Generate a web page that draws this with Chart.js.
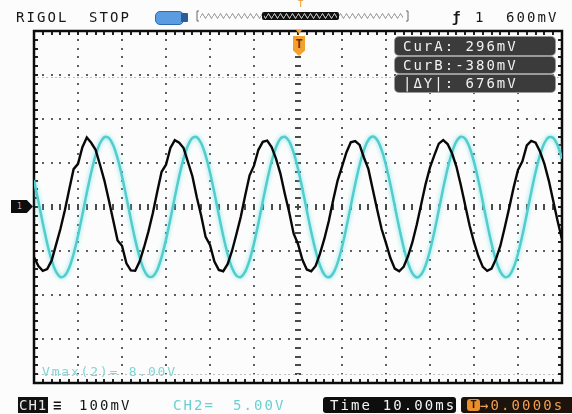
<!DOCTYPE html>
<html>
<head>
<meta charset="utf-8">
<script src="https://cdn.jsdelivr.net/npm/chart.js@4.4.0/dist/chart.umd.min.js"></script>
<style>
html, body { margin: 0; padding: 0; background: #fcfcfc; }
#wrap { position: relative; width: 572px; height: 414px; overflow: hidden; font-family: "DejaVu Sans Mono", monospace; }
#scope { position: absolute; left: 0; top: 0; }
.t { position: absolute; white-space: pre; font-size: 14px; letter-spacing: 2.1px; line-height: 16px; color: #161616; }
.cur { position: absolute; left: 395px; width: 160px; background: #3b3b3b; border-radius: 4px; box-shadow: 0 0 0 1px #9a9a9a; }
.cur span { position: absolute; left: 8px; top: 1px; white-space: pre; font-size: 14px; letter-spacing: 2px; line-height: 16px; color: #f2f2f2; }
</style>
</head>
<body>
<div id="wrap">
  <canvas id="scope" width="572" height="414"></canvas>

  <!-- top status line -->
  <div class="t" style="left:16px;top:9px;">RIGOL</div>
  <div class="t" style="left:89px;top:9px;">STOP</div>
  <div style="position:absolute;left:155px;top:11px;width:27px;height:12px;background:#5b9be0;border:1px solid #2d6bb5;border-radius:5px;"></div>
  <div style="position:absolute;left:181px;top:13px;width:7px;height:9px;background:#2a5d9c;border-radius:1px;"></div>
  <svg style="position:absolute;left:195px;top:8px;" width="220" height="16">
    <defs>
      <pattern id="zz" width="6" height="16" patternUnits="userSpaceOnUse">
        <polyline points="0,8 1.5,5.5 3,8 4.5,10.5 6,8" fill="none" stroke="#777" stroke-width="0.8"/>
      </pattern>
      <pattern id="zzw" width="6" height="16" patternUnits="userSpaceOnUse">
        <polyline points="0,8 1.5,5.5 3,8 4.5,10.5 6,8" fill="none" stroke="#eee" stroke-width="0.9"/>
      </pattern>
    </defs>
    <path d="M4,3 H2 V13 H4" fill="none" stroke="#666" stroke-width="1"/>
    <rect x="5" y="0" width="203" height="16" fill="url(#zz)"/>
    <rect x="67" y="4" width="77" height="8" rx="2" fill="#111"/>
    <rect x="69" y="4" width="73" height="8" fill="url(#zzw)"/>
    <path d="M211,3 H213 V13 H211" fill="none" stroke="#666" stroke-width="1"/>
  </svg>
  <div style="position:absolute;left:298px;top:0px;font-size:9px;line-height:9px;color:#e8962a;font-family:'DejaVu Sans Mono',monospace;">T</div>
  <div class="t" style="left:452px;top:9px;font-weight:bold;">ƒ</div>
  <div class="t" style="left:475px;top:9px;">1</div>
  <div class="t" style="left:506px;top:9px;">600mV</div>

  <!-- trigger position marker -->
  <div style="position:absolute;left:296px;top:30px;width:6px;height:4px;background:#f0a030;clip-path:polygon(0 0,100% 0,50% 100%);"></div>
  <div style="position:absolute;left:293px;top:36px;width:12px;height:20px;background:#f3a12e;clip-path:polygon(0 0,100% 0,100% 72%,50% 100%,0 72%);font:bold 12px 'DejaVu Sans Mono',monospace;color:#7a2a00;text-align:center;line-height:16px;">T</div>

  <!-- channel 1 ground marker -->
  <div style="position:absolute;left:11px;top:200px;width:22px;height:13px;background:#0d0d0d;clip-path:polygon(0 0,72% 0,100% 50%,72% 100%,0 100%);font:8px 'DejaVu Sans Mono',monospace;color:#bbb;line-height:13px;text-indent:6px;">1</div>

  <!-- cursor readout -->
  <div class="cur" style="top:37px;height:18px;"><span>CurA: 296mV</span></div>
  <div class="cur" style="top:57px;height:16px;"><span style="top:0px;">CurB:-380mV</span></div>
  <div class="cur" style="top:75px;height:17px;"><span style="top:0px;">|ΔY|: 676mV</span></div>

  <!-- measurement -->
  <div class="t" style="left:42px;top:364px;font-size:13px;letter-spacing:1.8px;color:#7fd6d6;">Vmax(2)= 8.00V</div>

  <!-- bottom status line -->
  <div class="t" style="left:18px;top:397px;background:#111;color:#e6e6e6;letter-spacing:1px;padding:0 1px;">CH1</div>
  <div class="t" style="left:53px;top:397px;color:#111;letter-spacing:0;font-weight:bold;">≡</div>
  <div class="t" style="left:79px;top:397px;">100mV</div>
  <div class="t" style="left:173px;top:397px;color:#6ccfcf;">CH2=</div>
  <div class="t" style="left:233px;top:397px;color:#6ccfcf;">5.00V</div>
  <div class="t" style="left:323px;top:397px;width:133px;height:16px;background:#0e0e0e;color:#f4f4f4;border-radius:3px;text-indent:7px;">Time 10.00ms</div>
  <div class="t" style="left:461px;top:397px;width:115px;height:16px;background:#1c130d;color:#f0a050;border-radius:3px;text-indent:19px;">→0.0000s</div>
  <div style="position:absolute;left:467px;top:399px;width:13px;height:12px;background:#e8902c;border-radius:3px;font:bold 11px 'DejaVu Sans Mono',monospace;color:#3a1500;text-align:center;line-height:12px;">T</div>
</div>

<script>
// horizontal base: 10 ms/div, 12 divisions, trigger in the middle
const timeStartMs = -60;
const sampleStepMs = 1;

// CH1 (black trace), mV, 100 mV/div
const ch1mV = [
  -114, -134, -145, -141, -122, -86, -50, -8, 40, 86,
  98, 136, 158, 146, 130, 96, 60, 16, -30, -76,
  -88, -128, -144, -145, -124, -92, -56, -14, 34, 80,
  96, 134, 152, 146, 134, 102, 70, 22, -20, -68,
  -86, -124, -143, -146, -130, -100, -62, -22, 26, 72,
  94, 130, 148, 151, 136, 110, 76, 30, -12, -60,
  -84, -120, -142, -146, -134, -106, -72, -32, 16, 60,
  92, 124, 147, 150, 141, 112, 86, 40, -6, -50,
  -82, -116, -140, -146, -136, -112, -80, -40, 6, 52,
  90, 118, 144, 152, 143, 122, 92, 50, 4, -42,
  -80, -112, -136, -145, -140, -118, -88, -46, -2, 44,
  84, 104, 140, 150, 146, 126, 98, 60, 14, -32,
  -74
];

// CH2 (cyan trace), V, 5 V/div
const ch2V = [
  3.03, 0.63, -1.84, -4.14, -6.04, -7.35, -7.96, -7.81, -6.91, -5.34,
  -3.27, -0.88, 1.61, 3.93, 5.87, 7.25, 7.94, 7.86, 7.03, 5.53,
  3.49, 1.11, -1.36, -3.71, -5.70, -7.15, -7.90, -7.90, -7.15, -5.69,
  -3.71, -1.36, 1.11, 3.49, 5.53, 7.03, 7.86, 7.94, 7.25, 5.87,
  3.93, 1.61, -0.88, -3.27, -5.34, -6.91, -7.81, -7.96, -7.35, -6.04,
  -4.13, -1.84, 0.63, 3.03, 5.17, 6.78, 7.76, 7.98, 7.45, 6.19,
  4.34, 2.08, -0.39, -2.82, -4.97, -6.65, -7.69, -7.99, -7.53, -6.35,
  -4.55, -2.31, 0.14, 2.58, 4.77, 6.51, 7.62, 8.00, 7.61, 6.49,
  4.75, 2.55, 0.10, -2.35, -4.58, -6.36, -7.55, -8.00, -7.68, -6.63,
  -4.94, -2.78, -0.35, 2.12, 4.38, 6.22, 7.46, 7.99, 7.75, 6.76,
  5.12, 3.00, 0.59, -1.88, -4.18, -6.07, -7.37, -7.97, -7.80, -6.89,
  -5.31, -3.21, -0.82, 1.65, 3.97, 5.90, 7.27, 7.94, 7.85, 7.01,
  5.49
];

// cursor levels (CH1)
const cursorLevelsMv = [296, -380];

const timeMs = ch1mV.map((_, i) => timeStartMs + i * sampleStepMs);

// scope graticule: dotted grid, centre cross with ticks, frame with ticks
const graticule = {
  id: 'graticule',
  beforeDatasetsDraw(chart) {
    const { ctx, chartArea: a, scales } = chart;
    const x = scales.x, y = scales.y;
    const px = v => Math.round(x.getPixelForValue(v));
    const py = v => Math.round(y.getPixelForValue(v));
    ctx.save();

    // dotted grid lines
    ctx.fillStyle = '#5e5e5e';
    for (let t = -50; t <= 50; t += 10) {
      if (t === 0) continue;
      for (let mv = -400; mv <= 400; mv += 20) ctx.fillRect(px(t) - 1, py(mv) - 1, 2, 2);
    }
    for (let mv = -300; mv <= 300; mv += 100) {
      if (mv === 0) continue;
      for (let t = -60; t <= 60; t += 2) ctx.fillRect(px(t) - 1, py(mv) - 1, 2, 2);
    }

    // centre cross
    ctx.fillStyle = '#4a4a4a';
    for (let t = -60; t <= 60; t += 2) ctx.fillRect(px(t) - 1, py(0) - 3, 2, 6);
    for (let mv = -400; mv <= 400; mv += 20) ctx.fillRect(px(0) - 3, py(mv) - 1, 6, 2);

    // cursor lines
    ctx.fillStyle = '#bdbdbd';
    cursorLevelsMv.forEach(mv => {
      for (let t = -60; t <= 60; t += 1) ctx.fillRect(px(t) - 1, py(mv), 2, 1);
    });

    // frame ticks
    ctx.fillStyle = '#222';
    for (let t = -60; t <= 60; t += 2) {
      ctx.fillRect(px(t) - 1, a.top, 2, 4);
      ctx.fillRect(px(t) - 1, a.bottom - 4, 2, 4);
    }
    for (let mv = -400; mv <= 400; mv += 20) {
      ctx.fillRect(a.left, py(mv) - 1, 4, 2);
      ctx.fillRect(a.right - 4, py(mv) - 1, 4, 2);
    }

    // frame
    ctx.strokeStyle = '#0c0c0c';
    ctx.lineWidth = 2.5;
    ctx.strokeRect(a.left, a.top, a.right - a.left, a.bottom - a.top);
    ctx.restore();
  },
  beforeDatasetDraw(chart, args) {
    if (args.index !== 1) return;
    const ctx = chart.ctx;
    ctx.save();
    ctx.shadowColor = 'rgba(110, 225, 225, 0.9)';
    ctx.shadowBlur = 4;
  },
  afterDatasetDraw(chart, args) {
    if (args.index !== 1) return;
    chart.ctx.restore();
  }
};

new Chart(document.getElementById('scope'), {
  type: 'line',
  data: {
    datasets: [
      {
        label: 'CH1',
        data: ch1mV.map((v, i) => ({ x: timeMs[i], y: v })),
        yAxisID: 'y',
        borderColor: '#080808',
        borderWidth: 2.4,
        pointRadius: 0,
        tension: 0,
      },
      {
        label: 'CH2',
        data: ch2V.map((v, i) => ({ x: timeMs[i], y: v })),
        yAxisID: 'y2',
        borderColor: '#52cccc',
        borderWidth: 2.5,
        pointRadius: 0,
        tension: 0.3,
      }
    ]
  },
  options: {
    responsive: false,
    animation: false,
    layout: { padding: { left: 34, right: 10, top: 31, bottom: 31 } },
    plugins: { legend: { display: false }, tooltip: { enabled: false } },
    scales: {
      x: { type: 'linear', min: -60, max: 60, display: false },
      y: { min: -400, max: 400, display: false },
      y2: { min: -20, max: 20, display: false }
    }
  },
  plugins: [graticule]
});
</script>
</body>
</html>
